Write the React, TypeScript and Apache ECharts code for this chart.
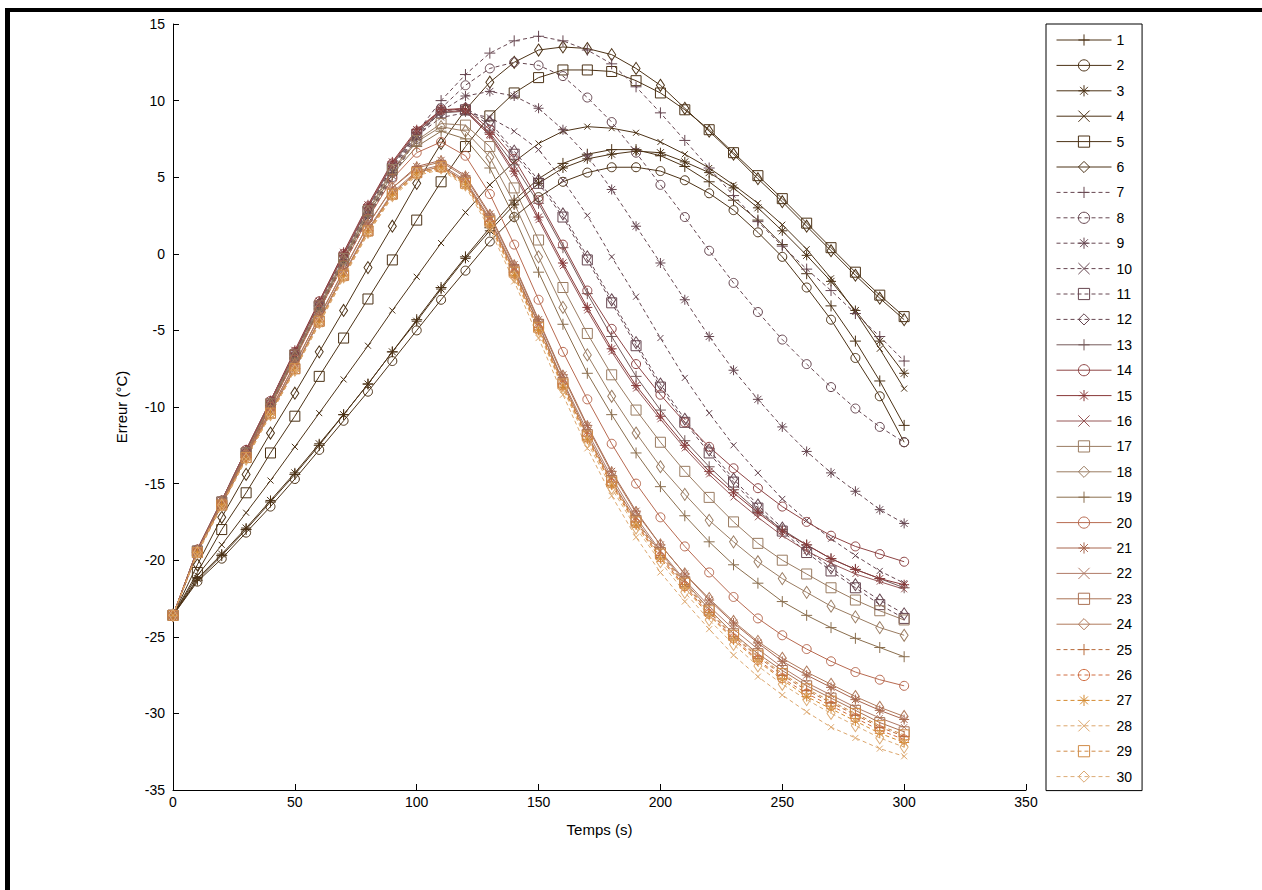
import React, { useEffect, useRef } from "react";
import * as echarts from "echarts";

const T = [0,10,20,30,40,50,60,70,80,90,100,110,120,130,140,150,160,170,180,190,200,210,220,230,240,250,260,270,280,290,300];

const s1 = [-23.6,-21.3,-19.7,-18.0,-16.2,-14.4,-12.5,-10.5,-8.5,-6.4,-4.3,-2.2,-0.2,1.7,3.5,4.9,5.9,6.5,6.8,6.8,6.4,5.7,4.7,3.5,2.2,0.6,-1.3,-3.4,-5.7,-8.3,-11.2];
const s2 = [-23.6,-21.4,-19.9,-18.2,-16.5,-14.7,-12.8,-10.9,-9.0,-7.0,-5.0,-3.0,-1.1,0.8,2.4,3.7,4.7,5.3,5.65,5.65,5.4,4.8,3.95,2.85,1.4,-0.2,-2.2,-4.3,-6.8,-9.3,-12.3];
const s3 = [-23.6,-21.2,-19.6,-17.9,-16.1,-14.3,-12.4,-10.5,-8.5,-6.4,-4.4,-2.3,-0.3,1.5,3.2,4.6,5.6,6.2,6.5,6.7,6.6,6.0,5.3,4.3,3.0,1.5,-0.1,-1.8,-3.7,-5.7,-7.8];
const s4 = [-23.6,-21.0,-19.0,-16.9,-14.8,-12.6,-10.4,-8.2,-6.0,-3.7,-1.5,0.7,2.7,4.5,6.0,7.2,8.0,8.3,8.2,7.9,7.3,6.5,5.6,4.5,3.3,1.9,0.3,-1.6,-3.8,-6.2,-8.8];
const s5 = [-23.6,-20.8,-18.0,-15.6,-13.0,-10.6,-8.0,-5.5,-2.95,-0.4,2.2,4.7,7.0,9.0,10.5,11.5,12.0,12.0,11.9,11.3,10.5,9.4,8.1,6.6,5.1,3.6,2.0,0.4,-1.2,-2.7,-4.1];
const s6 = [-23.6,-20.3,-17.2,-14.4,-11.7,-9.1,-6.4,-3.7,-0.9,1.8,4.6,7.2,9.4,11.2,12.5,13.3,13.5,13.4,13.0,12.1,11.0,9.5,8.0,6.5,4.9,3.4,1.8,0.2,-1.4,-2.9,-4.3];
const s7 = [-23.6,-19.5,-16.3,-13.0,-9.8,-6.6,-3.4,-0.4,2.6,5.3,7.9,10.0,11.7,13.1,13.9,14.2,13.9,13.3,12.4,10.9,9.2,7.4,5.6,3.8,2.1,0.5,-1.0,-2.4,-3.9,-5.4,-7.0];
const s8 = [-23.6,-19.5,-16.4,-13.2,-10.0,-6.8,-3.7,-0.7,2.3,5.0,7.5,9.5,11.0,12.1,12.5,12.3,11.6,10.2,8.6,6.6,4.5,2.4,0.2,-1.9,-3.8,-5.6,-7.2,-8.7,-10.1,-11.3,-12.3];
const s9 = [-23.6,-19.5,-16.4,-13.2,-10.0,-6.8,-3.6,-0.6,2.4,5.1,7.6,9.3,10.3,10.6,10.3,9.5,8.1,6.4,4.2,1.8,-0.6,-3.0,-5.4,-7.6,-9.5,-11.3,-12.9,-14.3,-15.5,-16.7,-17.6];
const s10 = [-23.6,-19.5,-16.3,-13.1,-9.9,-6.7,-3.5,-0.5,2.5,5.3,7.7,8.9,9.2,8.9,8.0,6.8,4.8,2.5,-0.2,-2.8,-5.5,-8.1,-10.4,-12.5,-14.3,-16.0,-17.4,-18.6,-19.7,-20.7,-21.5];
const s11 = [-23.6,-19.4,-16.2,-13.0,-9.8,-6.6,-3.4,-0.3,2.8,5.6,7.8,9.2,9.4,8.4,6.5,4.6,2.4,-0.4,-3.2,-6.0,-8.7,-11.0,-13.0,-14.9,-16.6,-18.1,-19.5,-20.7,-21.8,-22.9,-23.8];
const s12 = [-23.6,-19.4,-16.2,-12.9,-9.7,-6.5,-3.3,-0.2,2.9,5.7,7.9,9.3,9.5,8.6,6.7,4.8,2.6,-0.2,-3.0,-5.8,-8.5,-10.8,-12.8,-14.7,-16.4,-17.9,-19.3,-20.5,-21.6,-22.6,-23.5];
const s13 = [-23.6,-19.4,-16.2,-12.9,-9.7,-6.5,-3.2,-0.1,3.0,5.8,7.9,9.2,9.3,7.9,5.8,3.3,0.4,-2.6,-5.4,-8.0,-10.2,-12.2,-13.9,-15.4,-16.8,-18.0,-19.0,-19.9,-20.6,-21.2,-21.8];
const s14 = [-23.6,-19.3,-16.1,-12.8,-9.6,-6.4,-3.1,0.0,3.1,5.9,8.0,9.4,9.5,8.1,6.2,3.5,0.6,-2.4,-4.9,-7.2,-9.2,-11.0,-12.6,-14.0,-15.3,-16.5,-17.5,-18.4,-19.1,-19.6,-20.1];
const s15 = [-23.6,-19.3,-16.1,-12.8,-9.6,-6.3,-3.1,0.1,3.2,6.0,8.1,9.4,9.4,7.8,5.4,2.4,-0.6,-3.5,-6.2,-8.6,-10.6,-12.5,-14.2,-15.6,-16.9,-18.1,-19.0,-19.9,-20.6,-21.2,-21.6];
const s16 = [-23.6,-19.3,-16.1,-12.8,-9.6,-6.4,-3.2,0.0,3.1,5.9,8.0,9.3,9.3,7.7,5.2,2.2,-0.8,-3.7,-6.4,-8.8,-10.8,-12.7,-14.4,-15.9,-17.2,-18.4,-19.4,-20.2,-20.9,-21.4,-21.9];
const s17 = [-23.6,-19.4,-16.2,-13.0,-9.8,-6.6,-3.4,-0.3,2.8,5.5,7.4,8.5,8.4,7.0,4.3,0.9,-2.2,-5.2,-7.9,-10.2,-12.3,-14.2,-15.9,-17.5,-18.9,-20.0,-20.9,-21.8,-22.6,-23.3,-23.9];
const s18 = [-23.6,-19.4,-16.2,-13.0,-9.8,-6.7,-3.5,-0.4,2.7,5.4,7.3,8.3,8.0,6.3,3.3,-0.2,-3.5,-6.6,-9.3,-11.7,-13.9,-15.7,-17.4,-18.8,-20.1,-21.2,-22.1,-23.0,-23.7,-24.4,-24.9];
const s19 = [-23.6,-19.4,-16.3,-13.1,-9.9,-6.8,-3.6,-0.5,2.5,5.2,7.0,8.0,7.5,5.6,2.4,-1.2,-4.6,-7.8,-10.5,-13.0,-15.2,-17.1,-18.8,-20.3,-21.5,-22.7,-23.6,-24.4,-25.1,-25.7,-26.3];
const s20 = [-23.6,-19.4,-16.3,-13.1,-10.0,-6.9,-3.7,-0.7,2.3,4.9,6.6,7.3,6.4,3.9,0.6,-3.0,-6.4,-9.5,-12.4,-15.0,-17.2,-19.1,-20.8,-22.4,-23.8,-24.9,-25.8,-26.6,-27.3,-27.8,-28.2];
const s21 = [-23.6,-19.4,-16.3,-13.2,-10.2,-7.2,-4.1,-1.1,1.9,4.3,5.7,6.1,5.1,2.6,-0.7,-4.3,-7.9,-11.2,-14.2,-16.8,-19.0,-20.9,-22.6,-24.1,-25.4,-26.6,-27.5,-28.3,-29.1,-29.8,-30.4];
const s22 = [-23.6,-19.5,-16.4,-13.3,-10.3,-7.4,-4.3,-1.3,1.6,4.0,5.4,5.8,4.8,2.3,-1.0,-4.6,-8.3,-11.6,-14.6,-17.2,-19.4,-21.3,-23.0,-24.5,-25.8,-27.0,-28.0,-28.8,-29.6,-30.3,-30.9];
const s23 = [-23.6,-19.5,-16.4,-13.3,-10.4,-7.5,-4.4,-1.4,1.5,3.9,5.3,5.7,4.7,2.2,-1.1,-4.6,-8.4,-11.8,-14.8,-17.4,-19.5,-21.4,-23.2,-24.8,-26.1,-27.2,-28.2,-29.0,-29.8,-30.6,-31.2];
const s24 = [-23.6,-19.4,-16.3,-13.2,-10.2,-7.2,-4.1,-1.1,1.9,4.3,5.6,6.0,5.0,2.5,-0.8,-4.4,-8.0,-11.3,-14.3,-16.9,-19.0,-20.9,-22.5,-24.0,-25.3,-26.4,-27.3,-28.1,-28.9,-29.6,-30.2];
const s25 = [-23.6,-19.5,-16.4,-13.3,-10.4,-7.5,-4.4,-1.4,1.5,3.9,5.3,5.7,4.7,2.1,-1.2,-4.8,-8.5,-11.9,-14.9,-17.5,-19.7,-21.6,-23.4,-25.0,-26.3,-27.5,-28.5,-29.3,-30.1,-30.9,-31.5];
const s26 = [-23.6,-19.5,-16.4,-13.3,-10.4,-7.5,-4.5,-1.5,1.4,3.8,5.2,5.6,4.6,2.0,-1.3,-4.9,-8.6,-12.0,-15.0,-17.6,-19.8,-21.7,-23.5,-25.1,-26.5,-27.7,-28.7,-29.5,-30.3,-31.1,-31.7];
const s27 = [-23.6,-19.5,-16.4,-13.4,-10.5,-7.6,-4.5,-1.5,1.4,3.8,5.2,5.6,4.5,1.9,-1.4,-5.0,-8.7,-12.1,-15.1,-17.7,-19.9,-21.8,-23.6,-25.2,-26.6,-27.8,-28.9,-29.7,-30.5,-31.3,-31.9];
const s28 = [-23.6,-19.6,-16.5,-13.4,-10.5,-7.6,-4.6,-1.6,1.3,3.7,5.1,5.5,4.4,1.6,-1.8,-5.5,-9.2,-12.7,-15.8,-18.5,-20.8,-22.7,-24.5,-26.2,-27.6,-28.8,-29.9,-30.9,-31.6,-32.3,-32.8];
const s29 = [-23.6,-19.5,-16.4,-13.3,-10.4,-7.5,-4.4,-1.4,1.5,3.9,5.3,5.7,4.6,2.1,-1.2,-4.8,-8.5,-11.9,-14.9,-17.5,-19.6,-21.5,-23.3,-24.9,-26.2,-27.4,-28.4,-29.2,-30.0,-30.8,-31.4];
const s30 = [-23.6,-19.5,-16.4,-13.4,-10.5,-7.6,-4.5,-1.5,1.4,3.8,5.2,5.6,4.5,1.8,-1.5,-5.1,-8.8,-12.3,-15.3,-17.9,-20.1,-22.1,-23.9,-25.5,-26.9,-28.1,-29.1,-30.0,-30.8,-31.6,-32.2];

const SERIES = [s1,s2,s3,s4,s5,s6,s7,s8,s9,s10,s11,s12,s13,s14,s15,s16,s17,s18,s19,s20,s21,s22,s23,s24,s25,s26,s27,s28,s29,s30];
const NAMES = ["1","2","3","4","5","6","7","8","9","10","11","12","13","14","15","16","17","18","19","20","21","22","23","24","25","26","27","28","29","30"];
const X_TICKS = [0, 50, 100, 150, 200, 250, 300, 350];
const Y_TICKS = [-35, -30, -25, -20, -15, -10, -5, 0, 5, 10, 15];

const COLORS = [
  "#4c3216", "#4c3216", "#4c3216", "#4c3216", "#4c3216", "#4c3216",
  "#664650", "#664650", "#664650", "#664650", "#664650", "#664650",
  "#765a5a", "#8e4444", "#883838", "#965656",
  "#9a7c62", "#9a7c62", "#8a6e4e", "#b86a50",
  "#a8664e", "#b07a66", "#aa7254", "#b07a5c",
  "#b86c3c", "#d06c40", "#d48a30", "#dca66c", "#d08c48", "#dcaa74",
];

const PLUS = "path://M5,0L5,10M0,5L10,5";
const CROSS = "path://M0,0L10,10M10,0L0,10";
const STAR = "path://M5,0L5,10M0,5L10,5M1.5,1.5L8.5,8.5M8.5,1.5L1.5,8.5";
const MARKERS = [PLUS, "circle", STAR, CROSS, "rect", "diamond"];
const MSIZE: any[] = [11, 9, 10, 6, 10, [8, 12]];

const FONT = "Liberation Sans, Arial, sans-serif";

export default function App() {
  const ref = useRef<HTMLDivElement>(null);
  useEffect(() => {
    if (!ref.current) return;
    const chart = echarts.init(ref.current, undefined, { renderer: "svg" });
    const series = SERIES.map((vals, i) => {
      const c = COLORS[i];
      const dashed = (i >= 6 && i < 12) || i >= 24;
      return {
        name: NAMES[i],
        type: "line",
        data: T.map((t, k) => [t, vals[k]]),
        symbol: MARKERS[i % 6],
        symbolSize: MSIZE[i % 6],
        showSymbol: true,
        lineStyle: { color: c, width: 1, type: dashed ? [4, 3] : "solid" },
        itemStyle: { color: "rgba(0,0,0,0)", borderColor: c, borderWidth: 1 },
        emphasis: { disabled: true },
        silent: true,
      };
    });
    chart.setOption({
      animation: false,
      backgroundColor: "#fff",
      textStyle: { fontFamily: FONT },
      grid: { left: 173, top: 24, width: 853, height: 766, containLabel: false },
      xAxis: {
        type: "value",
        min: X_TICKS[0],
        max: X_TICKS[X_TICKS.length - 1],
        interval: 50,
        axisLine: { show: true, onZero: false, lineStyle: { color: "#000", width: 1 } },
        axisTick: { show: true, inside: true, length: 6, lineStyle: { color: "#000" } },
        axisLabel: { color: "#000", fontSize: 14, fontFamily: FONT, margin: 5 },
        splitLine: { show: false },
        name: "Temps (s)",
        nameLocation: "middle",
        nameGap: 32,
        nameTextStyle: { color: "#000", fontSize: 15, fontFamily: FONT },
      },
      yAxis: {
        type: "value",
        min: Y_TICKS[0],
        max: Y_TICKS[Y_TICKS.length - 1],
        interval: 5,
        axisLine: { show: true, onZero: false, lineStyle: { color: "#000", width: 1 } },
        axisTick: { show: true, inside: true, length: 6, lineStyle: { color: "#000" } },
        axisLabel: { color: "#000", fontSize: 14, fontFamily: FONT, margin: 8 },
        splitLine: { show: false },
        name: "Erreur (°C)",
        nameLocation: "middle",
        nameGap: 44,
        nameTextStyle: { color: "#000", fontSize: 15, fontFamily: FONT },
      },
      legend: {
        orient: "vertical",
        left: 1046,
        top: 24,
        padding: [9, 10, 7, 10],
        itemGap: 11.4,
        itemWidth: 55,
        itemHeight: 14,
        backgroundColor: "#fff",
        borderColor: "#000",
        borderWidth: 1,
        lineStyle: { width: 1 },
        itemStyle: { borderWidth: 1 },
        textStyle: { color: "#000", fontSize: 14, fontFamily: FONT },
        data: NAMES,
        selectedMode: false,
      },
      graphic: [
        { type: "rect", shape: { x: 5, y: 8, width: 1257, height: 4 }, style: { fill: "#000" }, silent: true },
        { type: "rect", shape: { x: 5, y: 8, width: 5, height: 882 }, style: { fill: "#000" }, silent: true },
      ],
      series,
    });
    return () => chart.dispose();
  }, []);
  return (
    <div
      ref={ref}
      style={{ position: "absolute", left: 0, top: 0, width: 1262, height: 890, background: "#fff" }}
    />
  );
}
